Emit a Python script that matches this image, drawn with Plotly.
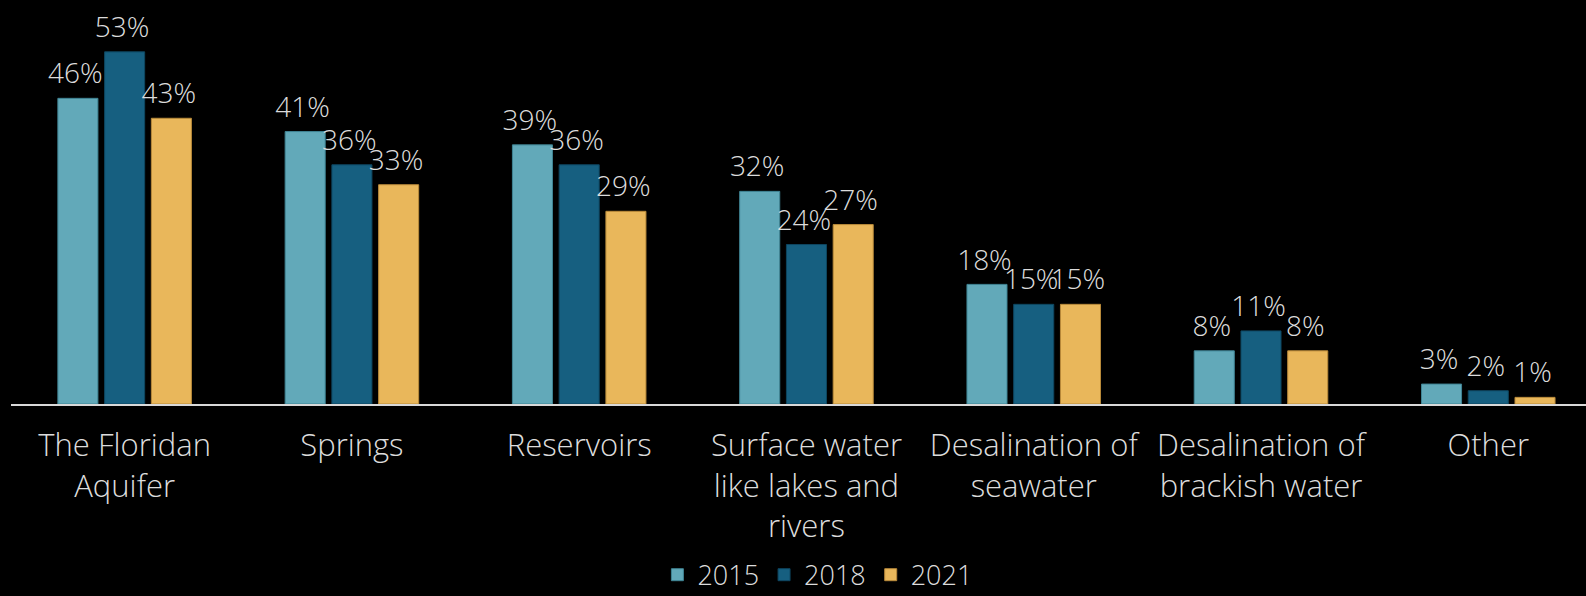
import plotly.graph_objects as go

categories = ["The Floridan<br>Aquifer", "Springs", "Reservoirs",
              "Surface water<br>like lakes and<br>rivers", "Desalination of<br>seawater",
              "Desalination of<br>brackish water", "Other"]
years = ["2015", "2018", "2021"]
v2015 = [46, 41, 39, 32, 18, 8, 3]
v2018 = [53, 36, 36, 24, 15, 11, 2]
v2021 = [43, 33, 29, 27, 15, 8, 1]
series = [v2015, v2018, v2021]
colors = ["#62a9b9", "#165f80", "#e9b75b"]
lines = ["#3f8494", "#0e4660", "#b98a3a"]

FONT = "Open Sans"
TXT = "#dcdcdc"
fig = go.Figure()
for name, vals, c, lc in zip(years, series, colors, lines):
    fig.add_trace(go.Bar(
        x=categories, y=vals, name=name,
        marker=dict(color=c, line=dict(color=lc, width=1)),
        text=[f"{v}%<sub>&nbsp;</sub>" for v in vals], textposition="outside",
        constraintext="none",
        textfont=dict(family=FONT, size=28, color=TXT, weight=300),
        cliponaxis=False,
    ))

fig.update_layout(
    width=1586, height=596,
    paper_bgcolor="black", plot_bgcolor="black",
    margin=dict(l=11, r=0, t=0, b=192),
    barmode="group", bargap=0.383, bargroupgap=0.143,
    showlegend=True,
    legend=dict(orientation="h", x=0.512, xanchor="center",
                yref="container", y=0.035, yanchor="middle",
                font=dict(family=FONT, size=27, color=TXT, weight=300),
                itemwidth=30, traceorder="normal"),
    font=dict(family=FONT, color=TXT),
)
fig.update_xaxes(range=[-0.5, 6.43], showline=True, linecolor="#d9d9d9", linewidth=2,
                 tickfont=dict(family=FONT, size=31, color=TXT, weight=300),
                 ticks="", showgrid=False, ticklabelstandoff=13, automargin=False)
fig.update_yaxes(range=[0, 60.8], visible=False, showgrid=False)

fig.write_html("out.html", config={"displayModeBar": False},
               post_script="document.body.style.margin='0';document.body.style.background='black';")
